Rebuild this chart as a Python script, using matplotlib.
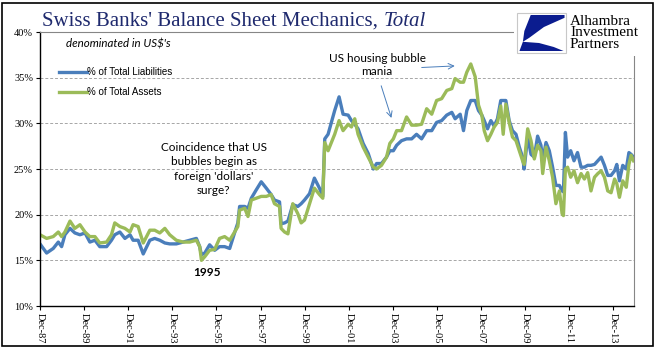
import matplotlib
matplotlib.use("Agg")
import matplotlib.pyplot as plt
from matplotlib.patches import Rectangle, Polygon
import numpy as np

# decimal years
years = [1987.92, 1988.22, 1988.52, 1988.75, 1988.90, 1989.05, 1989.28, 1989.50, 1989.73, 1989.96,
         1990.18, 1990.41, 1990.63, 1990.94, 1991.16, 1991.31, 1991.54, 1991.77, 1992.00, 1992.14,
         1992.37, 1992.60, 1992.90, 1993.12, 1993.35, 1993.58, 1993.80, 1994.10, 1994.41, 1994.71,
         1995.01, 1995.16, 1995.24, 1995.39, 1995.61, 1995.84, 1996.06, 1996.29, 1996.52, 1996.74,
         1996.89, 1996.97, 1997.20, 1997.35, 1997.50, 1997.72, 1997.95, 1998.18, 1998.40, 1998.55,
         1998.78, 1998.85, 1999.01, 1999.16, 1999.38, 1999.61, 1999.76, 1999.91, 2000.14, 2000.36,
         2000.59, 2000.74, 2000.83, 2000.98, 2001.13, 2001.28, 2001.48, 2001.66, 2001.89, 2002.04,
         2002.19, 2002.34, 2002.57, 2002.80, 2003.03, 2003.18, 2003.40, 2003.63, 2003.78, 2003.94,
         2004.09, 2004.31, 2004.54, 2004.77, 2004.99, 2005.22, 2005.45, 2005.68, 2005.90, 2006.13,
         2006.36, 2006.59, 2006.74, 2006.97, 2007.12, 2007.27, 2007.45, 2007.65, 2007.80, 2007.95,
         2008.06, 2008.21, 2008.36, 2008.51, 2008.66, 2008.81, 2008.92, 2009.04, 2009.19, 2009.34,
         2009.50, 2009.65, 2009.80, 2009.87, 2010.03, 2010.18, 2010.33, 2010.48, 2010.63, 2010.71,
         2010.86, 2011.01, 2011.16, 2011.31, 2011.47, 2011.59, 2011.65, 2011.74, 2011.84, 2011.98,
         2012.13, 2012.29, 2012.45, 2012.60, 2012.75, 2012.90, 2013.06, 2013.21, 2013.36, 2013.51,
         2013.66, 2013.81, 2013.97, 2014.07, 2014.19, 2014.34, 2014.50, 2014.62, 2014.72, 2014.83]

liabilities = [16.8, 15.8, 16.3, 17.0, 16.5, 17.8, 18.5, 18.0, 17.8, 18.0,
               17.0, 17.2, 16.5, 16.5, 17.2, 17.8, 18.1, 17.4, 17.8, 17.2,
               17.2, 15.7, 17.2, 17.4, 17.2, 16.9, 16.8, 16.8, 17.0, 17.2,
               17.4, 16.5, 15.6, 15.8, 16.7, 16.1, 16.5, 16.5, 16.3, 18.0,
               19.1, 20.9, 20.9, 20.7, 21.8, 22.7, 23.6, 22.9, 22.2, 21.6,
               21.4, 19.0, 19.1, 19.3, 21.1, 20.9, 21.2, 21.6, 22.3, 24.0,
               22.9, 22.0, 28.3, 28.8, 30.1, 31.4, 32.9, 31.0, 30.9, 30.3,
               29.9, 29.4, 27.8, 26.7, 25.0, 25.6, 25.6, 26.3, 27.0, 27.0,
               27.6, 28.1, 28.3, 28.3, 28.8, 28.3, 29.2, 29.2, 30.1, 30.3,
               30.9, 31.2, 30.5, 31.0, 29.2, 31.4, 32.5, 32.5, 31.4, 30.9,
               30.3, 29.4, 30.3, 29.7, 30.5, 32.5, 32.5, 32.5, 30.3, 29.2,
               28.8, 27.4, 26.3, 25.0, 28.6, 26.6, 26.3, 28.6, 27.6, 25.9,
               27.9, 27.0, 25.2, 23.2, 23.2, 22.6, 22.5, 29.0, 26.3, 27.0,
               25.9, 26.8, 25.2, 25.2, 25.4, 25.4, 25.5, 25.9, 26.3, 25.4,
               24.3, 24.3, 24.8, 25.5, 23.7, 25.4, 25.0, 26.8, 26.6, 26.3]

assets = [17.8, 17.4, 17.6, 18.1, 17.6, 18.1, 19.3, 18.5, 18.9, 18.1,
          17.6, 17.6, 16.9, 17.0, 17.8, 19.1, 18.7, 18.5, 18.1, 18.9,
          18.7, 16.9, 18.3, 18.3, 18.0, 18.5, 17.8, 17.2, 17.0, 17.0,
          17.2, 16.5, 15.0, 15.4, 16.1, 16.2, 17.4, 17.6, 17.2, 18.1,
          18.7, 20.5, 20.7, 19.8, 21.6, 21.8, 22.0, 22.0, 22.2, 21.2,
          20.9, 18.5, 18.1, 17.9, 21.2, 20.1, 19.1, 19.4, 21.2, 22.9,
          22.2, 21.8, 27.9, 27.0, 27.9, 28.8, 30.3, 29.2, 29.9, 29.6,
          30.5, 28.8, 27.4, 26.3, 25.2, 25.0, 25.4, 26.3, 27.8, 28.3,
          29.2, 29.2, 30.7, 29.8, 29.8, 29.9, 31.6, 31.0, 32.5, 32.7,
          33.6, 33.8, 34.9, 34.5, 34.5, 35.6, 36.5, 35.1, 32.0, 30.9,
          29.2, 28.1, 28.8, 29.6, 30.1, 31.9, 28.8, 32.1, 30.1, 28.5,
          28.1, 27.0, 25.9, 25.5, 29.4, 28.1, 26.1, 27.6, 27.0, 24.5,
          27.4, 25.9, 24.1, 21.2, 22.6, 20.1, 19.9, 25.0, 25.2, 24.1,
          24.8, 23.5, 24.5, 23.9, 24.6, 22.6, 24.1, 24.5, 24.8, 24.1,
          22.6, 22.4, 23.9, 23.4, 21.9, 23.7, 23.0, 25.5, 26.5, 25.9]

tick_years = [1987.92 + 2 * i for i in range(14)]
tick_labels = ["Dec-87", "Dec-89", "Dec-91", "Dec-93", "Dec-95", "Dec-97", "Dec-99",
               "Dec-01", "Dec-03", "Dec-05", "Dec-07", "Dec-09", "Dec-11", "Dec-13"]
y_ticks = [10, 15, 20, 25, 30, 35, 40]

BLUE = "#4A7EBB"
GREEN = "#9BBB59"
W, H = 669, 358

fig = plt.figure(figsize=(W / 100, H / 100), dpi=100)
ax = fig.add_axes([40 / W, 1 - 306 / H, 594 / W, 274 / H])

ax.plot(years, liabilities, color=BLUE, lw=2.4, label="% of Total Liabilities", solid_joinstyle="round")
ax.plot(years, assets, color=GREEN, lw=2.4, label="% of Total Assets", solid_joinstyle="round")

ax.set_xlim(1987.92, 2014.85)
ax.set_ylim(10, 40)
ax.set_yticks(y_ticks)
ax.set_yticklabels(["%d%%" % v for v in y_ticks], family="Liberation Serif", fontsize=7.5)
ax.set_xticks(tick_years)
ax.set_xticklabels(tick_labels, rotation=-90, family="Liberation Serif", fontsize=7.5)
ax.tick_params(axis="both", direction="out", length=3, width=0.8, pad=2)
for v in y_ticks[1:-1]:
    ax.axhline(v, color="#A6A6A6", lw=0.7, ls=(0, (3, 2)), zorder=0)
ax.spines["top"].set_color("#868686")
ax.spines["right"].set_color("#868686")
ax.spines["left"].set_linewidth(1.0)
ax.spines["bottom"].set_linewidth(1.0)

leg = ax.legend(loc="upper left", bbox_to_anchor=(0.025, 0.885), frameon=False,
                prop={"family": "Liberation Sans", "size": 7}, handlelength=2.9,
                handletextpad=0.05, labelspacing=1.0, borderaxespad=0)

ax.text(0.043, 0.955, "denominated in US$'s", transform=ax.transAxes, family="Lato",
        style="italic", fontsize=8.3, va="center", ha="left")

ax.text(1995.8, 25.0, "Coincidence that US\nbubbles begin as\nforeign 'dollars'\nsurge?",
        family="Lato", fontsize=8.5, ha="center", va="center", linespacing=1.38)
ax.text(1995.5, 13.7, "1995", family="Lato", fontsize=8.5, weight="bold", ha="center", va="center")
ax.text(2003.2, 36.4, "US housing bubble\nmania", family="Lato", fontsize=8.5,
        ha="center", va="center", linespacing=1.3)
ax.annotate("", xy=(2003.89, 30.3), xytext=(2003.35, 34.4),
            arrowprops=dict(arrowstyle="->", color=BLUE, lw=0.7))
ax.annotate("", xy=(2006.85, 36.3), xytext=(2005.1, 36.1),
            arrowprops=dict(arrowstyle="->", color=BLUE, lw=0.7))

# title
fig.text(42 / W, 1 - 26 / H, "Swiss Banks' Balance Sheet Mechanics, ", family="Liberation Serif",
         fontsize=15, color="#1F2A6E", va="baseline")
fig.canvas.draw()
r = fig.texts[0].get_window_extent()
fig.text(r.x1 / W, 1 - 26 / H, "Total", family="Liberation Serif", style="italic",
         fontsize=15, color="#1F2A6E", va="baseline")

# logo block covers the top right of the plot
fig.add_artist(Rectangle((514 / W, 1 - 56 / H), 136 / W, 51 / H, transform=fig.transFigure,
                         facecolor="white", edgecolor="none", zorder=3))
fig.add_artist(Rectangle((517 / W, 1 - 53 / H), 49 / W, 40 / H, transform=fig.transFigure,
                         facecolor="white", edgecolor="#C8C8C8", lw=0.8, zorder=4))
bx, by, bw, bh = 517, 13, 49, 40
def lp(u, v):
    return ((bx + u * bw) / W, 1 - (by + v * bh) / H)
fig.add_artist(Polygon([lp(0.28, 0.05), lp(0.97, 0.05), lp(0.97, 0.12), lp(0.55, 0.35),
                        lp(0.25, 0.62), lp(0.12, 0.72), lp(0.15, 0.45)],
                       closed=True, transform=fig.transFigure, facecolor="#0B1C8F",
                       edgecolor="none", zorder=5))
fig.add_artist(Polygon([lp(0.12, 0.72), lp(0.45, 0.75), lp(0.75, 0.85), lp(0.95, 0.95),
                        lp(0.05, 0.95)],
                       closed=True, transform=fig.transFigure, facecolor="#0B1C8F",
                       edgecolor="none", zorder=5))
fig.text(570 / W, 1 - 33 / H, "Alhambra\nInvestment\nPartners", family="Liberation Serif",
         fontsize=11, va="center", ha="left", linespacing=0.82, zorder=6)

# outer border
fig.add_artist(Rectangle((2 / W, 1 - 346 / H), 651 / W, 343 / H, transform=fig.transFigure,
                         facecolor="none", edgecolor="black", lw=1.2, zorder=6))

fig.savefig("out.png", dpi=100)
